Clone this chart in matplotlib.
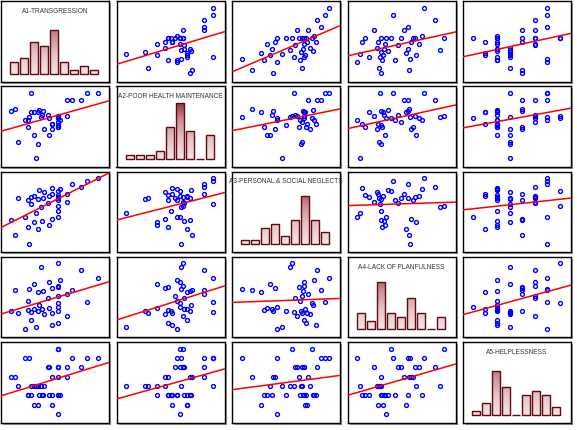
import numpy as np
import matplotlib
matplotlib.use("Agg")
import matplotlib.pyplot as plt
from matplotlib.patches import Rectangle
from matplotlib.colors import LinearSegmentedColormap, Normalize

# ---------------- data (scores, 40 respondents) -------------
names = ["A1-TRANSGRESSION", "A2-POOR HEALTH MAINTENANCE",
         "A3-PERSONAL & SOCIAL NEGLECTS", "A4-LACK OF PLANFULNESS",
         "A5-HELPLESSNESS"]

a1 = [29, 32, 8, 44, 27, 47, 38, 54, 20, 54, 47, 54, 57, 17, 54, 44, 35, 21, 54, 65,
      43, 36, 31, 27, 24, 37, 0, 33, 5, 81, 70, 65, 100, 88, 24, 47, 54, 54, 54, 20]
a2 = [0, 22, 25, 35, 35, 45, 45, 48, 48, 51, 53, 56, 59, 59, 62, 62, 63, 63, 65, 65,
      66, 66, 70, 70, 70, 73, 73, 74, 76, 89, 89, 89, 100, 100, 100, 53, 62, 48, 65, 59]
a3 = [48, 69, 70, 31, 35, 40, 79, 67, 28, 52, 76, 70, 84, 42, 81, 73, 57, 3, 59, 65,
      63, 37, 25, 74, 72, 71, 38, 83, 15, 87, 92, 77, 100, 96, 61, 86, 43, 75, 72, 68]
a4 = [3, 27, 25, 32, 68, 62, 23, 64, 29, 28, 24, 50, 74, 0, 39, 71, 95, 61, 100, 19,
      47, 31, 56, 30, 14, 58, 28, 36, 60, 90, 59, 54, 77, 41, 26, 6, 33, 9, 66, 43]
a5 = [3, 3, 3, 2, 3, 4, 3, 4, 2, 2, 1, 5, 2, 6, 7, 5, 3, 6, 7, 5,
      5, 2, 1, 1, 2, 2, 4, 2, 4, 5, 6, 4, 6, 6, 3, 2, 0, 2, 5, 2]

variables = [a1, a2, a3, a4, a5]
n_bins = 9

# ---------------- layout ----------------
W, H = 577, 431
fig = plt.figure(figsize=(W / 100, H / 100), dpi=100)
fig.patch.set_facecolor("white")

lefts = [1, 116.5, 232, 347.5, 463]
tops = [2, 87.3, 172.6, 257.9, 343.2]
pw, ph = 108, 80.5
shadow = 2.0

grad = LinearSegmentedColormap.from_list(
    "grad", ["#f4e4e4", "#e6c3c5", "#c98a90", "#8e1f2c"])
gnorm = Normalize(0, 15)


def make_axes(r, c):
    x0 = lefts[c] / W
    y0 = 1 - (tops[r] + ph) / H
    # drop shadow
    fig.patches.append(Rectangle(((lefts[c] + shadow) / W, y0 - shadow / H),
                                 pw / W, ph / H, transform=fig.transFigure,
                                 facecolor="#9a9a9a", edgecolor="none",
                                 zorder=-5))
    ax = fig.add_axes([x0, y0, pw / W, ph / H])
    ax.set_facecolor("white")
    ax.set_xticks([])
    ax.set_yticks([])
    for s in ax.spines.values():
        s.set_linewidth(1.0)
        s.set_color("black")
    return ax


for r in range(5):
    for c in range(5):
        ax = make_axes(r, c)
        if r == c:
            vals = np.asarray(variables[r], dtype=float)
            counts, _ = np.histogram(vals, bins=n_bins)
            ymax = 18.2
            ymin = -2.0
            yy = np.linspace(0, 15, 200).reshape(-1, 1)
            for i, h in enumerate(counts):
                xl = i - 0.4
                if h > 0:
                    im = ax.imshow(yy, cmap=grad, norm=gnorm, origin="lower",
                                   extent=[xl, xl + 0.8, 0, 15], aspect="auto",
                                   interpolation="bilinear", zorder=1)
                    im.set_clip_path(Rectangle((xl, 0), 0.8, h,
                                               transform=ax.transData))
                ax.add_patch(Rectangle((xl, 0), 0.8, h, facecolor="none",
                                       edgecolor="#5c0a12", linewidth=1.0,
                                       zorder=3))
            ax.set_xlim(-1.3, 9.45)
            ax.set_ylim(ymin, ymax)
            ax.text(0.5, 0.885, names[r], transform=ax.transAxes,
                    ha="center", va="center", fontsize=4.7,
                    family="Liberation Sans", color="#333333", clip_on=False)
        else:
            x = np.asarray(variables[c], dtype=float)
            y = np.asarray(variables[r], dtype=float)
            xr_ = x.max() - x.min()
            yr_ = y.max() - y.min()
            ax.set_xlim(x.min() - 0.11 * xr_, x.max() + 0.13 * xr_)
            ax.set_ylim(y.min() - 0.13 * yr_, y.max() + 0.10 * yr_)
            ax.plot(x, y, "o", mfc="none", mec="#0000ff", ms=2.8, mew=1.0,
                    zorder=2)
            k, b = np.polyfit(x, y, 1)
            xs = np.array(ax.get_xlim())
            ax.plot(xs, k * xs + b, color="#ff0000", lw=1.1, zorder=3)
            ax.set_xlim(xs)

fig.savefig("out.png", dpi=100, facecolor="white")
